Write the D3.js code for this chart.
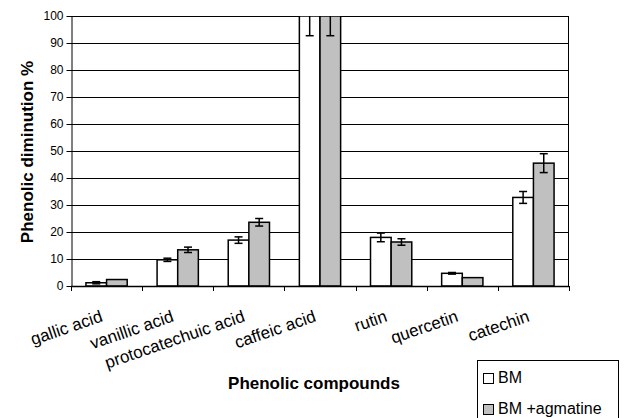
<!DOCTYPE html>
<html>
<head>
<meta charset="utf-8">
<script src="https://cdn.jsdelivr.net/npm/d3@7"></script>
<style>
  body { margin: 0; background: #fff; }
  text { font-family: "Liberation Sans", Arial, sans-serif; fill: #000; }
</style>
</head>
<body>
<div id="chart"></div>
<script>
const categories = ["gallic acid", "vanillic acid", "protocatechuic acid", "caffeic acid", "rutin", "quercetin", "catechin"];
const seriesNames = ["BM", "BM +agmatine"];
const bmValues = [1.2, 9.7, 17.0, 100, 18.0, 4.7, 32.8];
const bmErrors = [0.4, 0.6, 1.2, 7.3, 1.6, 0.3, 2.2];
const agmValues = [2.4, 13.4, 23.6, 100, 16.3, 3.1, 45.5];
const agmErrors = [0, 1.0, 1.4, 7.3, 1.2, 0, 3.5];
const yTicks = [0, 10, 20, 30, 40, 50, 60, 70, 80, 90, 100];
const colors = ["#ffffff", "#c0c0c0"];

const width = 627, height = 418;
const plotLeft = 71, plotRight = 569, plotTop = 16, plotBottom = 286;

const svg = d3.select("#chart").append("svg")
    .attr("width", width)
    .attr("height", height);

const x = d3.scaleBand().domain(categories).range([plotLeft, plotRight]);
const xs = d3.scaleBand().domain(seriesNames)
    .range([x.bandwidth() * 0.21, x.bandwidth() * 0.79]);
const y = d3.scaleLinear().domain([0, 100]).range([plotBottom, plotTop]);

const rows = categories.map((c, i) => ({
    cat: c,
    vals: [
        { s: seriesNames[0], v: bmValues[i], e: bmErrors[i], color: colors[0] },
        { s: seriesNames[1], v: agmValues[i], e: agmErrors[i], color: colors[1] }
    ]
}));

// gridlines
svg.append("g")
    .selectAll("line")
    .data(yTicks.filter(t => t > 0))
    .enter().append("line")
    .attr("x1", plotLeft).attr("x2", plotRight)
    .attr("y1", d => Math.round(y(d)) + 0.5)
    .attr("y2", d => Math.round(y(d)) + 0.5)
    .attr("stroke", "#000");

svg.append("defs").append("clipPath").attr("id", "plot")
    .append("rect")
    .attr("x", plotLeft).attr("y", plotTop)
    .attr("width", plotRight - plotLeft).attr("height", plotBottom - plotTop);

// bars
const groups = svg.append("g")
    .attr("clip-path", "url(#plot)")
    .selectAll(".cat")
    .data(rows)
    .enter().append("g")
    .attr("class", "cat")
    .attr("transform", d => `translate(${x(d.cat)},0)`);

groups.selectAll("rect")
    .data(d => d.vals)
    .enter().append("rect")
    .attr("x", d => xs(d.s))
    .attr("y", d => y(d.v))
    .attr("width", xs.bandwidth())
    .attr("height", d => plotBottom - y(d.v))
    .attr("fill", d => d.color)
    .attr("stroke", "#000")
    .attr("stroke-width", 1.5);

// error bars
const err = groups.selectAll(".err")
    .data(d => d.vals.filter(v => v.e > 0))
    .enter().append("g")
    .attr("class", "err")
    .attr("stroke", "#000")
    .attr("stroke-width", 1.5);

err.append("line")
    .attr("x1", d => xs(d.s) + xs.bandwidth() / 2)
    .attr("x2", d => xs(d.s) + xs.bandwidth() / 2)
    .attr("y1", d => y(d.v + d.e))
    .attr("y2", d => y(d.v - d.e));

[1, -1].forEach(sign => {
    err.append("line")
        .attr("x1", d => xs(d.s) + xs.bandwidth() / 2 - 4)
        .attr("x2", d => xs(d.s) + xs.bandwidth() / 2 + 4)
        .attr("y1", d => y(d.v + sign * d.e))
        .attr("y2", d => y(d.v + sign * d.e));
});

// right border
svg.append("line")
    .attr("x1", plotRight - 0.5).attr("x2", plotRight - 0.5)
    .attr("y1", plotTop).attr("y2", plotBottom)
    .attr("stroke", "#000");

// y axis
const yAxis = svg.append("g")
    .attr("transform", `translate(${plotLeft + 0.5},0)`)
    .call(d3.axisLeft(y).tickValues(yTicks).tickSize(5).tickPadding(3).tickSizeOuter(0));
yAxis.select(".domain").attr("stroke", "#000");
yAxis.selectAll("text")
    .style("font-size", "12px")
    .style("font-family", "'Liberation Sans', Arial, sans-serif");

// x axis line + ticks at category boundaries
svg.append("line")
    .attr("x1", plotLeft).attr("x2", plotRight)
    .attr("y1", plotBottom + 0.5).attr("y2", plotBottom + 0.5)
    .attr("stroke", "#000").attr("stroke-width", 1.5);

svg.append("g")
    .selectAll("line")
    .data(categories.concat(["end"]))
    .enter().append("line")
    .attr("x1", (d, i) => Math.round(plotLeft + i * x.step()) + 0.5)
    .attr("x2", (d, i) => Math.round(plotLeft + i * x.step()) + 0.5)
    .attr("y1", plotBottom)
    .attr("y2", plotBottom + 5)
    .attr("stroke", "#000");

svg.append("g")
    .selectAll("text")
    .data(categories)
    .enter().append("text")
    .attr("transform", d => `translate(${x(d) + x.bandwidth() / 2 - 3},321) rotate(-19)`)
    .attr("text-anchor", "end")
    .style("font-size", "17px")
    .text(d => d);

// titles
svg.append("text")
    .attr("x", 314)
    .attr("y", 389)
    .attr("text-anchor", "middle")
    .style("font-size", "17px")
    .style("font-weight", "bold")
    .text("Phenolic compounds");

svg.append("text")
    .attr("transform", "translate(33,152) rotate(-90)")
    .attr("text-anchor", "middle")
    .style("font-size", "17px")
    .style("font-weight", "bold")
    .text("Phenolic diminution %");

// legend
const legend = svg.append("g").attr("transform", "translate(477,360)");
legend.append("rect")
    .attr("x", 0.5).attr("y", 0.5)
    .attr("width", 141).attr("height", 80)
    .attr("fill", "#fff")
    .attr("stroke", "#000");

const items = legend.selectAll(".item")
    .data(seriesNames)
    .enter().append("g")
    .attr("class", "item")
    .attr("transform", (d, i) => `translate(0,${i * 31})`);

items.append("rect")
    .attr("x", 6.5).attr("y", 13.5)
    .attr("width", 10).attr("height", 10)
    .attr("fill", (d, i) => colors[i])
    .attr("stroke", "#000");

items.append("text")
    .attr("x", 21)
    .attr("y", 23)
    .style("font-size", "16px")
    .text(d => d);
</script>
</body>
</html>
